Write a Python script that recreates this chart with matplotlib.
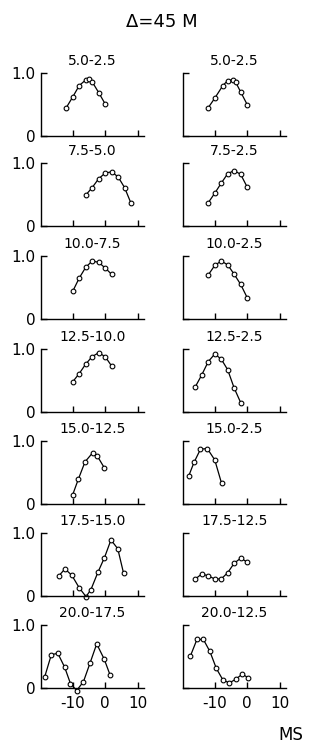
import matplotlib.pyplot as plt

plt.rcParams['axes.unicode_minus'] = False

titles_left = ['5.0-2.5', '7.5-5.0', '10.0-7.5', '12.5-10.0', '15.0-12.5', '17.5-15.0', '20.0-17.5']
titles_right = ['5.0-2.5', '7.5-2.5', '10.0-2.5', '12.5-2.5', '15.0-2.5', '17.5-12.5', '20.0-12.5']

# left column (ms, normalised value)
l1_x = [-12, -10, -8, -6, -5, -4, -2, 0]
l1_y = [0.45, 0.62, 0.80, 0.89, 0.90, 0.86, 0.69, 0.51]
l2_x = [-6, -4, -2, 0, 2, 4, 6, 8]
l2_y = [0.49, 0.61, 0.75, 0.84, 0.86, 0.78, 0.61, 0.36]
l3_x = [-10, -8, -6, -4, -2, 0, 2]
l3_y = [0.44, 0.65, 0.82, 0.92, 0.90, 0.81, 0.71]
l4_x = [-10, -8, -6, -4, -2, 0, 2]
l4_y = [0.48, 0.61, 0.76, 0.88, 0.94, 0.88, 0.73]
l5_x = [-10, -8.3, -6.2, -3.9, -2.4, -0.2]
l5_y = [0.15, 0.39, 0.67, 0.81, 0.76, 0.57]
l6_x = [-14.3, -12.4, -10.3, -8, -5.9, -4.4, -2.2, -0.2, 1.8, 3.9, 5.7]
l6_y = [0.32, 0.43, 0.33, 0.13, -0.01, 0.10, 0.38, 0.61, 0.89, 0.75, 0.36]
l7_x = [-18.7, -16.6, -14.6, -12.5, -10.7, -8.8, -6.7, -4.7, -2.6, -0.3, 1.5]
l7_y = [0.17, 0.53, 0.55, 0.33, 0.07, -0.04, 0.10, 0.39, 0.70, 0.46, 0.21]

# right column
r1_x = [-12, -10, -7.5, -6, -4.5, -3.5, -2, 0]
r1_y = [0.45, 0.60, 0.80, 0.88, 0.89, 0.85, 0.70, 0.50]
r2_x = [-12, -10, -8, -6, -4, -2, 0]
r2_y = [0.37, 0.52, 0.68, 0.83, 0.88, 0.82, 0.62]
r3_x = [-12, -10, -8, -6, -4, -2, 0]
r3_y = [0.70, 0.85, 0.92, 0.86, 0.71, 0.55, 0.34]
r4_x = [-16, -14, -12, -10, -8, -6, -4, -2]
r4_y = [0.40, 0.59, 0.80, 0.92, 0.84, 0.67, 0.38, 0.15]
r5_x = [-18, -16.4, -14.4, -12.3, -10, -7.9]
r5_y = [0.45, 0.66, 0.87, 0.88, 0.70, 0.33]
r6_x = [-16, -14, -12, -10, -8, -6, -4, -2, 0]
r6_y = [0.27, 0.35, 0.32, 0.27, 0.27, 0.37, 0.52, 0.60, 0.54]
r7_x = [-17.5, -15.5, -13.5, -11.5, -9.5, -7.5, -5.5, -3.5, -1.5, 0.4]
r7_y = [0.51, 0.77, 0.77, 0.58, 0.31, 0.13, 0.08, 0.14, 0.22, 0.16]

x_ticks = [-10, 0, 10]
x_ticklabels = ['-10', '0', '10']
y_ticks = [0, 1.0]
y_ticklabels = ['0', '1.0']

left_data = [(l1_x, l1_y), (l2_x, l2_y), (l3_x, l3_y), (l4_x, l4_y),
             (l5_x, l5_y), (l6_x, l6_y), (l7_x, l7_y)]
right_data = [(r1_x, r1_y), (r2_x, r2_y), (r3_x, r3_y), (r4_x, r4_y),
              (r5_x, r5_y), (r6_x, r6_y), (r7_x, r7_y)]

W, H = 309, 746
fig = plt.figure(figsize=(W / 100, H / 100), dpi=100)

row_base = [136, 226, 319, 412, 504, 596, 688]   # pixel row of y=0
unit = 63                                         # pixels for 1.0
ymin, ymax = -0.12, 1.0
col_x = [41, 183]
ax_w = 103

for c, (titles, data) in enumerate([(titles_left, left_data), (titles_right, right_data)]):
    for r in range(7):
        bottom_px = row_base[r] - ymin * unit
        height_px = (ymax - ymin) * unit
        ax = fig.add_axes([col_x[c] / W, 1 - bottom_px / H, ax_w / W, height_px / H])
        xs, ys = data[r]
        ax.plot(xs, ys, '-o', color='black', lw=0.9, ms=3.4,
                mfc='white', mec='black', mew=0.8, clip_on=False)
        ax.set_xlim(-19.8, 12)
        ax.set_ylim(ymin, ymax)
        ax.spines[['top', 'right']].set_visible(False)
        ax.spines['bottom'].set_position(('data', 0))
        ax.spines['left'].set_bounds(0, 1.0)
        for s in ['left', 'bottom']:
            ax.spines[s].set_linewidth(1.0)
        ax.set_xticks(x_ticks)
        ax.set_yticks(y_ticks)
        ax.tick_params(direction='in', length=4, width=1.0, labelsize=11)
        ax.tick_params(axis='x', pad=6)
        ax.tick_params(axis='y', pad=4)
        if c == 0:
            ax.set_yticklabels(y_ticklabels)
        else:
            ax.set_yticklabels([])
        if r == 6:
            ax.set_xticklabels(x_ticklabels)
        else:
            ax.set_xticklabels([])
        ax.set_title(titles[r], fontsize=10, pad=6)

fig.text(162 / W, 1 - 22 / H, 'Δ=45 M', ha='center', va='center', fontsize=13)
fig.text(291 / W, 1 - 735 / H, 'MS', ha='center', va='center', fontsize=12)

fig.savefig('out.png', dpi=100)
